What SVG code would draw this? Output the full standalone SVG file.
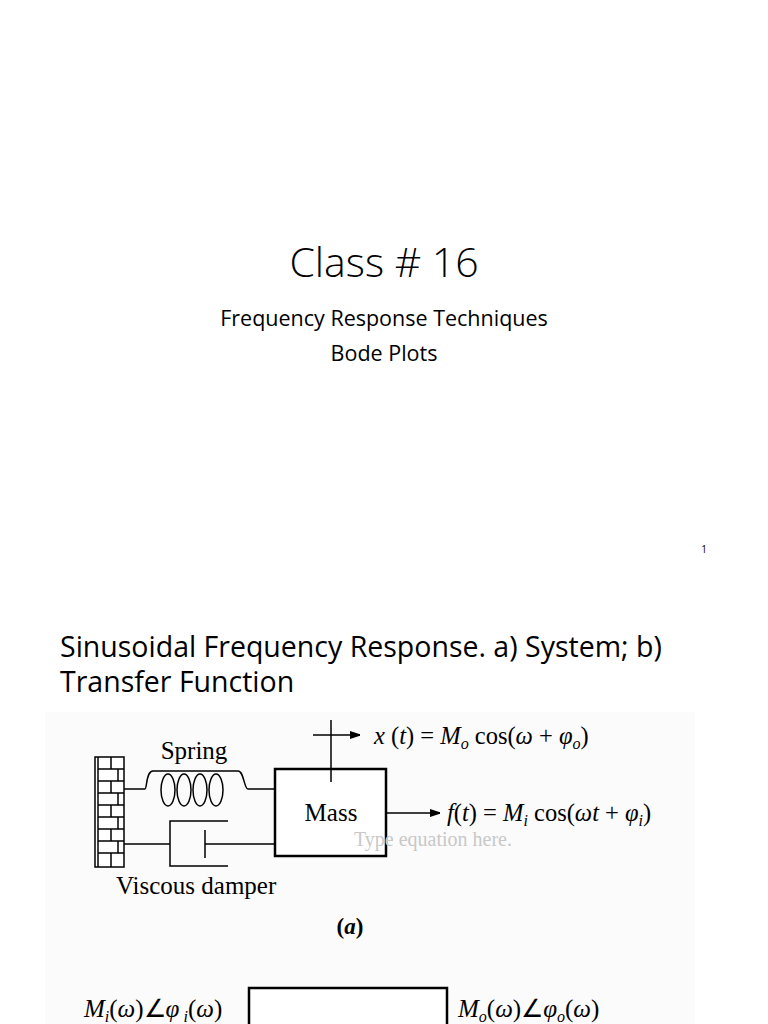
<svg xmlns="http://www.w3.org/2000/svg" width="768" height="1024" viewBox="0 0 768 1024">
<style>
.cal{font-family:"Open Sans","Liberation Sans",sans-serif;fill:#000}
.tm{font-family:"Liberation Serif",serif;fill:#000}
.ln{stroke:#000;stroke-width:1.5;fill:none}
</style>
<defs><marker id="ah" markerWidth="10" markerHeight="8" refX="10" refY="4" orient="auto" markerUnits="userSpaceOnUse"><path d="M0,0 L12,4 L0,8 Z" fill="#000"/></marker></defs>
<rect width="768" height="1024" fill="#fff"/>
<rect x="45" y="712" width="650" height="312" fill="#fbfbfb"/>
<g id="slide1">
<text class="cal" x="384" y="277" font-size="41" text-anchor="middle" font-weight="300">Class # 16</text>
<text class="cal" x="384" y="326" font-size="21.5" text-anchor="middle">Frequency Response Techniques</text>
<text class="cal" x="384" y="361" font-size="21.5" text-anchor="middle">Bode Plots</text>
<text class="cal" x="704" y="553" font-size="10" text-anchor="middle">1</text>
</g>
<g id="title2">
<text class="cal" x="60" y="657" font-size="28.5">Sinusoidal Frequency Response. a) System; b)</text>
<text class="cal" x="60" y="692" font-size="28.5">Transfer Function</text>
</g>
<g id="wall" class="ln" stroke-width="1.2">
<rect x="95" y="757" width="29" height="110" fill="#fff" stroke="#000"/>
<line x1="98" y1="757" x2="98" y2="867" stroke="#000"/>
<path d="M98,769H124M98,781H124M98,793H124M98,805H124M98,817H124M98,829H124M98,841H124M98,853H124M111,757V769M111,781V793M111,805V817M111,829V841M111,853V867M118,769V781M118,793V805M118,817V829M118,841V853" stroke="#000"/>
</g>
<g id="spring" class="ln">
<path d="M124,789H145C147,789 146,771 153,771H238C244,771 244,789 248,789H275"/>
<ellipse cx="168" cy="790" rx="7" ry="16"/>
<ellipse cx="184" cy="790" rx="7" ry="16"/>
<ellipse cx="200" cy="790" rx="7" ry="16"/>
<ellipse cx="216" cy="790" rx="7" ry="16"/>
<text class="tm" x="194" y="759" font-size="25" text-anchor="middle" stroke="none">Spring</text>
</g>
<g id="damper" class="ln">
<path d="M124,844H170M228,821H170V866H228M205,830V858M205,844H275"/>
<text class="tm" x="116" y="894" font-size="25" stroke="none">Viscous damper</text>
</g>
<g id="mass">
<rect x="275" y="769" width="111" height="87" fill="#fff" stroke="#000" stroke-width="2.5"/>
<text class="tm" x="331" y="821" font-size="25" text-anchor="middle">Mass</text>
</g>
<g id="connectors" class="ln">
<line x1="331" y1="720" x2="331" y2="782"/>
<line x1="313" y1="735" x2="360" y2="735" marker-end="url(#ah)"/>
<line x1="386" y1="813" x2="440" y2="813" marker-end="url(#ah)"/>
</g>
<g id="labels" class="tm" font-size="24.5">
<text x="374" y="744"><tspan font-style="italic">x</tspan> (<tspan font-style="italic">t</tspan>) = <tspan font-style="italic">M</tspan><tspan font-style="italic" font-size="16" dy="5">o</tspan><tspan dy="-5"> cos(</tspan><tspan font-style="italic">ω</tspan> + <tspan font-style="italic">φ</tspan><tspan font-style="italic" font-size="16" dy="5">o</tspan><tspan dy="-5">)</tspan></text>
<text x="447" y="821"><tspan font-style="italic">f</tspan>(<tspan font-style="italic">t</tspan>) = <tspan font-style="italic">M</tspan><tspan font-style="italic" font-size="16" dy="5">i</tspan><tspan dy="-5"> cos(</tspan><tspan font-style="italic">ωt</tspan> + <tspan font-style="italic">φ</tspan><tspan font-style="italic" font-size="16" dy="5">i</tspan><tspan dy="-5">)</tspan></text>
<text x="354" y="846" font-size="20" fill="#c8c8c8">Type equation here.</text>
<text x="350" y="934" font-size="23" text-anchor="middle" font-weight="bold">(<tspan font-style="italic">a</tspan>)</text>
</g>
<g id="tf">
<rect x="249" y="988" width="198" height="60" fill="#fff" stroke="#000" stroke-width="2.5"/>
<text class="tm" x="84" y="1017" font-size="25"><tspan font-style="italic">M</tspan><tspan font-style="italic" font-size="16" dy="5">i</tspan><tspan dy="-5">(</tspan><tspan font-style="italic">ω</tspan>)∠<tspan font-style="italic">φ</tspan><tspan font-style="italic" font-size="16" dy="5"> i</tspan><tspan dy="-5">(</tspan><tspan font-style="italic">ω</tspan>)</text>
<text class="tm" x="458" y="1017" font-size="25"><tspan font-style="italic">M</tspan><tspan font-style="italic" font-size="16" dy="5">o</tspan><tspan dy="-5">(</tspan><tspan font-style="italic">ω</tspan>)∠<tspan font-style="italic">φ</tspan><tspan font-style="italic" font-size="16" dy="5">o</tspan><tspan dy="-5">(</tspan><tspan font-style="italic">ω</tspan>)</text>
</g>
</svg>
